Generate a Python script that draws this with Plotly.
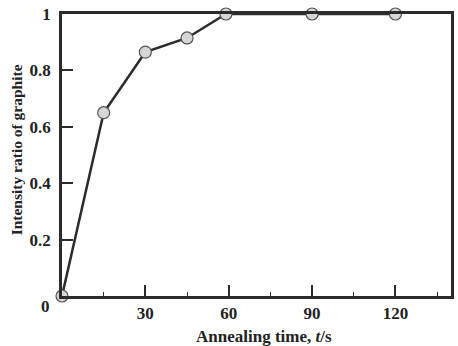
import plotly.graph_objects as go

time_s = [0, 15, 30, 45, 59, 90, 120]
ratio = [0.0, 0.65, 0.865, 0.915, 1.0, 1.0, 1.0]
x_ticks = [30, 60, 90, 120]
y_ticks = [0.2, 0.4, 0.6, 0.8, 1]
y_tick_text = ["0.2", "0.4", "0.6", "0.8", "1"]

FONT = "Liberation Serif"
DARK = "#2b2b2b"
TXT = "#222222"

fig = go.Figure()
fig.add_trace(go.Scatter(
    x=time_s, y=ratio, mode="lines+markers",
    line=dict(color=DARK, width=2.5),
    marker=dict(size=12, color="#d6d6d6", line=dict(color="#555555", width=1.2)),
    cliponaxis=False, showlegend=False,
))

fig.update_layout(
    width=458, height=346,
    margin=dict(l=62, r=4, t=14, b=50),
    paper_bgcolor="white", plot_bgcolor="white",
    font=dict(family=FONT, size=14, color=TXT),
    xaxis=dict(
        range=[0, 140], tickvals=x_ticks, ticks="inside", ticklen=11, tickwidth=1.5,
        tickcolor=DARK, showline=True, linecolor=DARK, linewidth=2.5, mirror=True,
        showgrid=False, zeroline=False,
        tickfont=dict(family=FONT, size=17, color=TXT, weight="bold"),
        minor=dict(tickvals=[15, 45, 75, 105, 135], ticks="inside", ticklen=4, tickwidth=1.2, tickcolor=DARK),
    ),
    yaxis=dict(
        range=[0, 1], tickvals=y_ticks, ticktext=y_tick_text, ticks="inside", ticklen=11, tickwidth=1.5,
        tickcolor=DARK, showline=True, linecolor=DARK, linewidth=2.5, mirror=True,
        showgrid=False, zeroline=False, ticklabelstandoff=5,
        tickfont=dict(family=FONT, size=17, color=TXT, weight="bold"),
    ),
    annotations=[
        dict(text="<b>0</b>", xref="paper", yref="paper", x=(45 - 62) / 392, y=-(306 - 296) / 282,
             xanchor="center", yanchor="middle", showarrow=False,
             font=dict(family=FONT, size=17, color=TXT)),
        dict(text="<b>Annealing time, <i>t</i>/s</b>", xref="paper", yref="paper",
             x=(265.5 - 62) / 392, y=-(336 - 296) / 282, xanchor="center", yanchor="middle",
             showarrow=False, font=dict(family=FONT, size=17, color=TXT)),
        dict(text="<b>Intensity ratio of graphite</b>", xref="paper", yref="paper",
             x=-(62 - 16) / 392, y=(296 - 150) / 282, xanchor="center", yanchor="middle",
             textangle=-90, showarrow=False, font=dict(family=FONT, size=15.5, color=TXT)),
    ],
)

fig.write_html("out.html")
